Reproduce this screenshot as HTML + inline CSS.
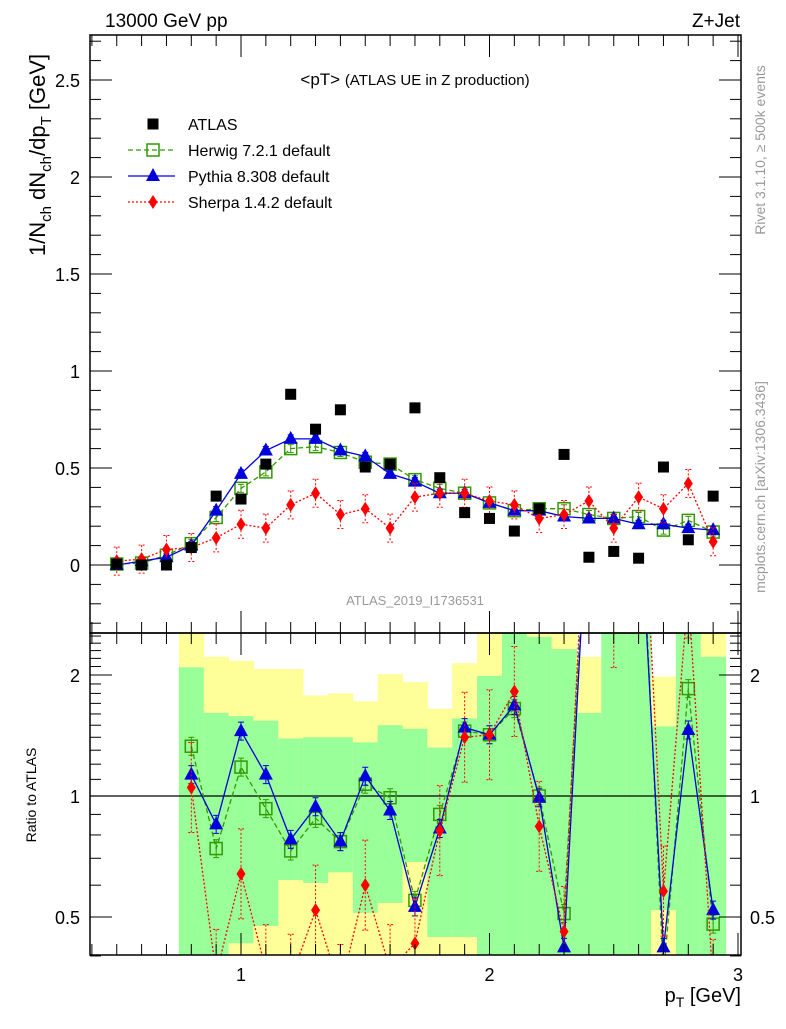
<!DOCTYPE html>
<html><head><meta charset="utf-8"><style>
body{margin:0;background:#fff;width:786px;height:1024px;overflow:hidden}
svg{font-family:"Liberation Sans",sans-serif}
</style></head><body>
<svg id="c" width="786" height="1024" xmlns="http://www.w3.org/2000/svg">
<defs>
<clipPath id="mainClip"><rect x="90" y="35" width="651" height="598"/></clipPath>
<clipPath id="ratioClip"><rect x="90" y="633" width="651" height="322"/></clipPath>
</defs>
<g id="bands" clip-path="url(#ratioClip)"></g>
<g id="ratio" clip-path="url(#ratioClip)"></g>
<g id="main" clip-path="url(#mainClip)"></g>
<g id="axes"></g>
<text x="105" y="27" font-size="19">13000 GeV pp</text>
<text x="740" y="27" font-size="19" text-anchor="end">Z+Jet</text>
<text x="415" y="85" font-size="17" text-anchor="middle">&lt;pT&gt; <tspan font-size="15">(ATLAS UE in Z production)</tspan></text>
<text x="415" y="605" font-size="13" fill="#999" text-anchor="middle">ATLAS_2019_I1736531</text>
<text transform="translate(765,150) rotate(-90)" font-size="14" fill="#999" text-anchor="middle">Rivet 3.1.10, ≥ 500k events</text>
<text transform="translate(765,487) rotate(-90)" font-size="14" fill="#999" text-anchor="middle">mcplots.cern.ch [arXiv:1306.3436]</text>
<text transform="translate(45,155) rotate(-90)" font-size="22" text-anchor="middle">1/N<tspan font-size="15" dy="6">ch</tspan><tspan dy="-6"> dN</tspan><tspan font-size="15" dy="6">ch</tspan><tspan dy="-6">/dp</tspan><tspan font-size="15" dy="6">T</tspan><tspan dy="-6"> [GeV]</tspan></text>
<text transform="translate(36,795) rotate(-90)" font-size="14" text-anchor="middle">Ratio to ATLAS</text>
<text x="741" y="1002" font-size="20" text-anchor="end">p<tspan font-size="14" dy="5">T</tspan><tspan dy="-5"> [GeV]</tspan></text>
<g id="legend"></g>
</svg>
<script>
const pts = [0.5,0.6,0.7,0.8,0.9,1.0,1.1,1.2,1.3,1.4,1.5,1.6,1.7,1.8,1.9,2.0,2.1,2.2,2.3,2.4,2.5,2.6,2.7,2.8,2.9];
const atlas = [0.005,0.0,0.0,0.09,0.355,0.34,0.52,0.88,0.70,0.80,0.505,0.52,0.81,0.45,0.27,0.24,0.175,0.29,0.57,0.04,0.07,0.035,0.505,0.13,0.355];
const herwig = [0.005,0.01,0.05,0.11,0.245,0.395,0.48,0.60,0.61,0.58,0.53,0.52,0.44,0.395,0.37,0.32,0.28,0.29,0.29,0.26,0.24,0.25,0.18,0.23,0.17];
const pythia = [0.0,0.02,0.04,0.10,0.28,0.47,0.59,0.65,0.65,0.59,0.56,0.47,0.43,0.37,0.37,0.32,0.28,0.28,0.25,0.24,0.24,0.21,0.21,0.19,0.18];
const sherpa = [0.02,0.03,0.08,0.09,0.14,0.21,0.19,0.31,0.37,0.26,0.29,0.19,0.35,0.37,0.37,0.33,0.31,0.24,0.26,0.33,0.19,0.35,0.29,0.42,0.12];
const rpts = [0.8,0.9,1.0,1.1,1.2,1.3,1.4,1.5,1.6,1.7,1.8,1.9,2.0,2.1,2.2,2.3,2.4,2.5,2.6,2.7,2.8,2.9];
const herwigRatio = [1.33,0.74,1.18,0.93,0.73,0.88,0.77,1.07,0.99,0.55,0.90,1.45,1.42,1.65,1.0,0.51,6.5,3.4,7.1,0.36,1.85,0.48];
const pythiaRatio = [1.13,0.85,1.45,1.13,0.78,0.94,0.77,1.12,0.92,0.53,0.83,1.48,1.42,1.68,0.99,0.42,6.0,3.4,6.0,0.42,1.46,0.52];
const sherpaRatio = [1.05,0.36,0.64,0.37,0.35,0.52,0.33,0.60,0.37,0.43,0.82,1.40,1.42,1.82,0.84,0.46,8.0,2.7,10.0,0.58,3.2,0.34];
const bandCenters = rpts;
const yellowHi = [2.6,2.22,2.17,2.07,2.07,1.78,1.80,1.72,2.01,1.92,1.65,2.14,2.6,2.6,2.6,2.6,2.22,2.6,2.6,1.98,2.6,2.6];
const greenHi = [2.09,1.61,1.58,1.54,1.39,1.40,1.40,1.36,1.50,1.47,1.32,1.56,1.99,2.6,2.49,2.32,1.61,2.6,2.6,1.49,2.6,2.22];
const greenLo = [0.3,0.3,0.43,0.475,0.618,0.608,0.646,0.512,0.542,0.685,0.446,0.446,0.3,0.3,0.3,0.3,0.3,0.3,0.3,0.52,0.3,0.3];
const yellowLo = [0.3,0.3,0.3,0.3,0.3,0.3,0.3,0.3,0.3,0.3,0.3,0.3,0.3,0.3,0.3,0.3,0.3,0.3,0.3,0.3,0.3,0.3];
const mainTicks = [0,0.5,1,1.5,2,2.5];
const ratioTicks = [0.5,1,2];
const xTicks = [1,2,3];

const NS='http://www.w3.org/2000/svg';
const X = v => 241 + (v-1)*248.5;
const Y = v => 565 - v*194;
const R = r => 796 - Math.log2(r)*121;
function el(tag, attrs, parent){const e=document.createElementNS(NS,tag);for(const k in attrs)e.setAttribute(k,attrs[k]);parent.appendChild(e);return e;}
const gB=document.getElementById('bands'), gR=document.getElementById('ratio'), gM=document.getElementById('main'), gA=document.getElementById('axes'), gL=document.getElementById('legend');

bandCenters.forEach((c,i)=>{
  const x0=X(c-0.05), w=X(c+0.05)-x0;
  const yb=el('rect',{x:x0,y:R(yellowHi[i]),width:w+0.5,height:R(yellowLo[i])-R(yellowHi[i]),fill:'#ffff99'},gB);
  
  
  const gb=el('rect',{x:x0,y:R(greenHi[i]),width:w+0.5,height:R(greenLo[i])-R(greenHi[i]),fill:'#99ff99'},gB);
  
  
});
const one=el('line',{x1:90,x2:741,y1:R(1),y2:R(1),stroke:'#000','stroke-width':1.3},gR);



function marker(type,x,y,col,g){
  let m;
  if(type==='sq') m=el('rect',{x:x-6,y:y-6,width:12,height:12,fill:'none',stroke:col,'stroke-width':1.5},g);
  else if(type==='tri') m=el('polygon',{points:`${x},${y-8} ${x-7},${y+5} ${x+7},${y+5}`,fill:col},g);
  else if(type==='dia') m=el('polygon',{points:`${x},${y-7} ${x+4.5},${y} ${x},${y+7} ${x-4.5},${y}`,fill:col},g);
  else m=el('rect',{x:x-5.5,y:y-5.5,width:11,height:11,fill:col},g);
  return m;
}
function series(xs,ys,ymap,col,dash,type,g,name,err){
  const d=xs.map((x,i)=>`${i?'L':'M'}${X(x).toFixed(1)},${ymap(ys[i]).toFixed(1)}`).join('');
  const p=el('path',{d:d,fill:'none',stroke:col,'stroke-width':1.3,'stroke-dasharray':dash},g);
  
  
  xs.forEach((x,i)=>{
    const cy=ymap(ys[i]);
    if(err){const e=el('path',{d:`M${X(x)},${cy-err}V${cy+err}M${X(x)-3},${cy-err}h6M${X(x)-3},${cy+err}h6`,stroke:col,'stroke-width':1,fill:'none','stroke-dasharray':dash==='2,2'?'2,2':'none'},g);
      
      }
    const m=marker(type,X(x),cy,col,g);
    
    
  });
}
series(pts,herwig,Y,'#339900','5,3','sq',gM,'herwig',4);
series(pts,pythia,Y,'#0000dd','none','tri',gM,'pythia',4);
series(pts,sherpa,Y,'#ff0000','2,2','dia',gM,'sherpa',14);
pts.forEach((x,i)=>{const m=marker('fill',X(x),Y(atlas[i]),'#000',gM);
  
  });
series(rpts,herwigRatio,R,'#339900','5,3','sq',gR,'herwig-ratio',9);
series(rpts,pythiaRatio,R,'#0000dd','none','tri',gR,'pythia-ratio',9);
series(rpts,sherpaRatio,R,'#ff0000','2,2','dia',gR,'sherpa-ratio',45);

[[35,598],[633,322]].forEach(([y,h])=>{const f=el('rect',{x:90,y:y,width:651,height:h,fill:'none',stroke:'#000','stroke-width':1.5},gA);
  
  });
for(let k=4;k<=30;k++){const v=k/10;const x=X(v);const major=k%10===0;const L=major?22:11;
  el('line',{x1:x,x2:x,y1:633,y2:633-L,stroke:'#000'},gA);
  el('line',{x1:x,x2:x,y1:35,y2:35+L,stroke:'#000'},gA);
  el('line',{x1:x,x2:x,y1:955,y2:955-L,stroke:'#000'},gA);
  el('line',{x1:x,x2:x,y1:633,y2:633+L,stroke:'#000'},gA);}
xTicks.forEach(v=>{const t=el('text',{x:X(v),y:981,'font-size':18,'text-anchor':'middle'},gA);t.textContent=v;
  
  });
for(let k=-3;k<=27;k++){const v=k/10;const y=Y(v);const major=k%5===0;const L=major?22:11;
  el('line',{x1:90,x2:90+L,y1:y,y2:y,stroke:'#000'},gA);
  el('line',{x1:741,x2:741-L,y1:y,y2:y,stroke:'#000'},gA);}
mainTicks.forEach(v=>{const t=el('text',{x:80,y:Y(v)+7,'font-size':18,'text-anchor':'end'},gA);t.textContent=v;
  
  });
[0.4,0.5,0.6,0.7,0.8,0.9,1,1.1,1.2,1.3,1.4,1.5,1.6,1.7,1.8,1.9,2,2.1,2.2,2.3,2.4,2.5].forEach(v=>{
  const y=R(v);const major=ratioTicks.includes(v);const L=major?22:11;
  el('line',{x1:90,x2:90+L,y1:y,y2:y,stroke:'#000'},gA);
  el('line',{x1:741,x2:741-L,y1:y,y2:y,stroke:'#000'},gA);});
ratioTicks.forEach(v=>{
  const t=el('text',{x:80,y:R(v)+7,'font-size':18,'text-anchor':'end'},gA);t.textContent=v;
  
  
  const t2=el('text',{x:750,y:R(v)+7,'font-size':18},gA);t2.textContent=v;
  
  });

const leg=[['ATLAS','#000','none','fill',124],['Herwig 7.2.1 default','#339900','5,3','sq',150],['Pythia 8.308 default','#0000dd','none','tri',176],['Sherpa 1.4.2 default','#ff0000','2,2','dia',202]];
leg.forEach(([lab,col,dash,type,y])=>{
  const g=el('g',{},gL);
  
  
  if(type!=='fill') el('line',{x1:128,x2:175,y1:y,y2:y,stroke:col,'stroke-width':1.3,'stroke-dasharray':dash},g);
  marker(type,153,y,col,g);
  const t=el('text',{x:188,y:y+6,'font-size':16},g);t.textContent=lab;
});
</script>
</body></html>
